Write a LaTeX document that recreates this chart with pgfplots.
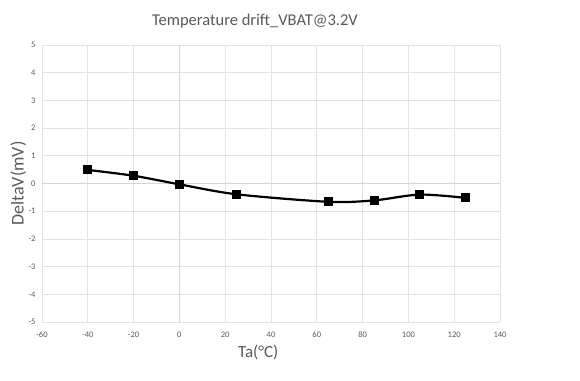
\documentclass[border=0pt]{standalone}
\usepackage{pgfplots}
\pgfplotsset{compat=1.18}
\usepackage{fontspec}
\setmainfont{Carlito}
\definecolor{txt}{HTML}{595959}
\definecolor{grd}{HTML}{E3E3E3}
\definecolor{zer}{HTML}{D4D4D4}
\begin{document}
\begin{tikzpicture}
\useasboundingbox (-42pt,-58pt) rectangle (538pt,322pt);
\begin{axis}[
  at={(0,0)}, anchor=south west,
  scale only axis, width=458pt, height=277pt,
  xmin=-60, xmax=140, ymin=-5, ymax=5,
  xtick={-60,-40,...,140}, ytick={-5,-4,...,5},
  grid=major, major grid style={grd, line width=0.8pt},
  axis line style={draw=none},
  tick style={draw=none},
  /pgf/number format/assume math mode=true,
  ticklabel style={font=\fontsize{8.5}{10}\selectfont, text=txt},
  xticklabel style={yshift=-6pt},
  yticklabel style={xshift=-3pt},
  title={Temperature drift\_VBAT@3.2V},
  title style={font=\fontsize{16.5}{19}\selectfont, text=txt, at={(rel axis cs:0.465,1.064)}, anchor=center},
  xlabel={Ta(°C)},
  xlabel style={font=\fontsize{17}{20}\selectfont, text=txt, at={(rel axis cs:0.472,-0.109)}, anchor=center},
  ylabel={DeltaV(mV)},
  ylabel style={font=\fontsize{18}{21}\selectfont, text=txt, at={(rel axis cs:-0.052,0.5)}, anchor=center, rotate=0},
  clip=false,
]
\addplot[zer, line width=1pt, forget plot] coordinates {(0,-5) (0,5)};
\addplot[zer, line width=1pt, forget plot] coordinates {(-60,0) (140,0)};
\addplot[black, line width=2.2pt, smooth, tension=0.5, mark=square*, mark size=4pt, mark options={solid, line width=0pt}] coordinates {
(-40,0.49) (-20,0.28) (0,-0.03) (25,-0.39) (65,-0.66) (85,-0.61) (105,-0.40) (125,-0.52)
};
\end{axis}
\end{tikzpicture}
\end{document}
